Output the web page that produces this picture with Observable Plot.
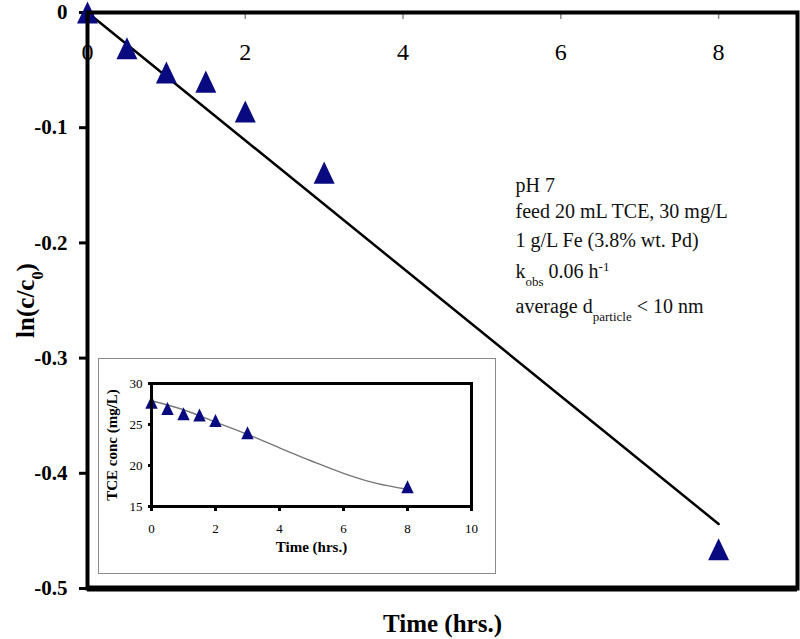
<!DOCTYPE html>
<html>
<head>
<meta charset="utf-8">
<script src="https://cdn.jsdelivr.net/npm/d3@7"></script>
<script src="https://cdn.jsdelivr.net/npm/@observablehq/plot@0.6"></script>
<style>
  html, body { margin: 0; padding: 0; background: white; }
  #wrap { position: relative; width: 800px; height: 639px; overflow: hidden; }
  #inset { position: absolute; left: 98px; top: 358px; border: 1.5px solid #8a8a8a; background: white; line-height: 0; }
</style>
</head>
<body>
<div id="wrap"><div id="main"></div><div id="inset"></div></div>
<script>
// ---- data ----
const times = [0, 0.5, 1, 1.5, 2, 3, 8];
const lnRatio = [0, -0.031, -0.052, -0.060, -0.086, -0.139, -0.466];
const fitTimes = [0, 8];
const fitValues = [0, -0.444];
const mainXTicks = [0, 2, 4, 6, 8];
const mainYTicks = [0, -0.1, -0.2, -0.3, -0.4, -0.5];

const insetConc = [27.7, 26.95, 26.3, 26.15, 25.5, 24.0, 17.4];
const curveTimes = [0, 1, 2, 3, 4, 5, 6, 7, 8];
const curveConc = [27.9, 26.8, 25.3, 23.8, 22.15, 20.55, 19.05, 17.85, 17.1];
const insetXTicks = [0, 2, 4, 6, 8, 10];
const insetYTicks = [15, 20, 25, 30];

const annotationLines = [
  "pH 7",
  "feed 20 mL TCE, 30 mg/L",
  "1 g/L Fe (3.8% wt. Pd)",
  "k_{obs} 0.06 h^{-1}",
  "average d_{particle} < 10 nm"
];

// ---- helpers ----
const points = times.map((t, i) => ({t, v: lnRatio[i]}));
const fit = fitTimes.map((t, i) => ({t, v: fitValues[i]}));
const insetPoints = times.map((t, i) => ({t, c: insetConc[i]}));
const curve = curveTimes.map((t, i) => ({t, c: curveConc[i]}));

const navy = "#0a0a80";
const tri = {
  draw(context, size) {
    const s = Math.sqrt(size);
    context.moveTo(0, -1.05 * s);
    context.lineTo(s, 1.05 * s);
    context.lineTo(-s, 1.05 * s);
    context.closePath();
  }
};
const font = "'Liberation Serif', 'Times New Roman', Times, serif";

function richify(svg) {
  d3.select(svg).selectAll("text").each(function () {
    const t = this.textContent;
    if (!/[_^]\{/.test(t)) return;
    while (this.firstChild) this.removeChild(this.firstChild);
    const re = /([_^])\{([^}]*)\}|([^_^]+)/g;
    let m;
    while ((m = re.exec(t))) {
      const ts = document.createElementNS("http://www.w3.org/2000/svg", "tspan");
      if (m[3] !== undefined) {
        ts.textContent = m[3];
      } else {
        ts.textContent = m[2];
        ts.setAttribute("font-size", "65%");
        ts.setAttribute("baseline-shift", m[1] === "_" ? "sub" : "super");
      }
      this.appendChild(ts);
    }
  });
}

// ---- main chart ----
const yFmt = d => d === 0 ? "0" : d.toFixed(1);
const mainChart = Plot.plot({
  width: 800,
  height: 639,
  marginLeft: 87,
  marginRight: 3,
  marginTop: 12,
  marginBottom: 51,
  x: {domain: [0, 9], axis: null},
  y: {domain: [-0.5, 0], axis: null},
  style: {fontFamily: font, background: "white", color: "black"},
  marks: [
    Plot.axisY({ticks: mainYTicks, tickFormat: yFmt, tickSize: 8, tickPadding: 12, strokeWidth: 3,
      fontSize: 21, fontWeight: "bold", label: null}),
    Plot.ruleX(mainXTicks, {x: d => d, y1: 0, y2: -0.006, stroke: "#888", strokeWidth: 1.5}),
    Plot.text(mainXTicks, {x: d => d, frameAnchor: "top", dy: 40, lineAnchor: "middle",
      text: d => String(d), fontSize: 24, fill: "black"}),
    Plot.line(fit, {x: "t", y: "v", stroke: "black", strokeWidth: 2.5}),
    Plot.dot(points, {x: "t", y: "v", symbol: tri, r: 5.92, fill: navy, stroke: "none"}),
    ...annotationLines.map((line, i) => Plot.text([line], {
      text: d => d, frameAnchor: "top-left", dx: 428, dy: [173, 199, 228, 259, 294][i],
      textAnchor: "start", lineAnchor: "middle", fontSize: 20, fill: "#111"
    })),
    Plot.text(["ln(c/c_{0})"], {text: d => d, frameAnchor: "left", dx: -62, rotate: -90,
      textAnchor: "middle", fontSize: 25, fontWeight: "bold", lineAnchor: "middle"}),
    Plot.text(["Time (hrs.)"], {text: d => d, frameAnchor: "bottom", dy: 35,
      textAnchor: "middle", fontSize: 25, fontWeight: "bold", lineAnchor: "middle"}),
    Plot.frame({stroke: "black", strokeWidth: 4}),
    Plot.ruleY([-0.5], {stroke: "black", strokeWidth: 6})
  ]
});
richify(mainChart);
document.getElementById("main").appendChild(mainChart);

// ---- inset chart ----
const insetChart = Plot.plot({
  width: 396,
  height: 214,
  marginLeft: 52,
  marginTop: 24,
  marginRight: 24,
  marginBottom: 67,
  x: {domain: [0, 10], axis: null},
  y: {domain: [15, 30], axis: null},
  style: {fontFamily: font, background: "white", color: "black"},
  marks: [
    Plot.axisY({ticks: insetYTicks, tickSize: 3, tickPadding: 6, strokeWidth: 3, fontSize: 13, label: null}),
    Plot.axisX({ticks: insetXTicks, tickSize: 5, tickPadding: 12, strokeWidth: 3, fontSize: 13, label: null}),
    Plot.line(curve, {x: "t", y: "c", curve: "catmull-rom", stroke: "#777", strokeWidth: 1.4}),
    Plot.dot(insetPoints, {x: "t", y: "c", symbol: tri, r: 3.5, fill: navy, stroke: "none"}),
    Plot.text(["TCE conc (mg/L)"], {text: d => d, frameAnchor: "left", dx: -39, rotate: -90,
      textAnchor: "middle", fontSize: 15, fontWeight: "bold", lineAnchor: "middle"}),
    Plot.text(["Time (hrs.)"], {text: d => d, frameAnchor: "bottom", dy: 41,
      textAnchor: "middle", fontSize: 15, fontWeight: "bold", lineAnchor: "middle"}),
    Plot.frame({stroke: "black", strokeWidth: 3})
  ]
});
document.getElementById("inset").appendChild(insetChart);
</script>
</body>
</html>
